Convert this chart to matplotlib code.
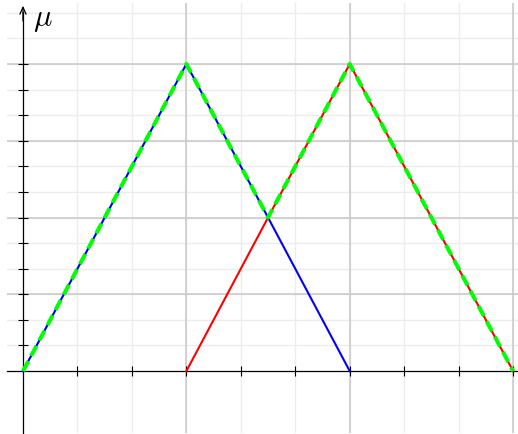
import numpy as np
import matplotlib
matplotlib.use("Agg")
import matplotlib.pyplot as plt

plt.rcParams["mathtext.fontset"] = "cm"

# membership functions (triangles) and their union
low_x = [0, 1, 2]
low_mu = [0, 1, 0]
high_x = [1, 2, 3]
high_mu = [0, 1, 0]
union_x = [0, 1, 1.5, 2, 3]
union_mu = [0, 1, 0.5, 1, 0]

W, H = 518, 435
fig = plt.figure(figsize=(W / 100, H / 100), dpi=100)
# axes box in pixels: x 6.65..518, y 3.6..433.5 (from top)
ax = fig.add_axes([6.65 / W, (H - 433.5) / H, (518 - 6.65) / W, (433.5 - 3.6) / H])
ax.set_xlim(-0.1, 3.03)
ax.set_ylim(-0.2, 1.2)

xmaj = np.arange(1, 4)
xmin = np.arange(1, 10) / 3
ymaj = np.arange(1, 5) / 4
ymin = np.arange(1, 15) / 12

ax.set_xticks(xmin)
ax.set_yticks(ymin[:12])
ax.tick_params(direction="inout", length=7, width=0.8, labelbottom=False, labelleft=False)

# grid
for v in xmin:
    ax.axvline(v, color="#ececec", lw=1.0, zorder=0)
for v in ymin:
    ax.axhline(v, color="#ececec", lw=1.0, zorder=0)
for v in xmaj:
    ax.axvline(v, color="#c8c8c8", lw=1.1, zorder=0.5)
for v in ymaj:
    ax.axhline(v, color="#c8c8c8", lw=1.1, zorder=0.5)

for s in ["top", "right"]:
    ax.spines[s].set_visible(False)
ax.spines["left"].set_position(("data", 0))
ax.spines["bottom"].set_position(("data", 0))
ax.spines["left"].set_linewidth(0.9)
ax.spines["bottom"].set_linewidth(0.9)
ax.spines["left"].set_bounds(-0.2, 1.17)
ax.annotate("", xy=(0, 1.19), xytext=(0, 1.14),
            arrowprops=dict(arrowstyle="->,head_length=0.5,head_width=0.22",
                            color="black", lw=0.9, mutation_scale=10,
                            shrinkA=0, shrinkB=0),
            annotation_clip=False)

ax.plot(low_x, low_mu, color="#0000ff", lw=1.5, zorder=3)
ax.plot(high_x, high_mu, color="#ff0000", lw=1.5, zorder=3)
ax.plot(union_x, union_mu, color="#00ff00", lw=2.9, dashes=(2.8, 1.5),
        zorder=4, clip_on=False)

ax.text(0.062, 1.148, r"$\mu$", fontsize=22, ha="left", va="center")

fig.savefig("out.png", dpi=100)
